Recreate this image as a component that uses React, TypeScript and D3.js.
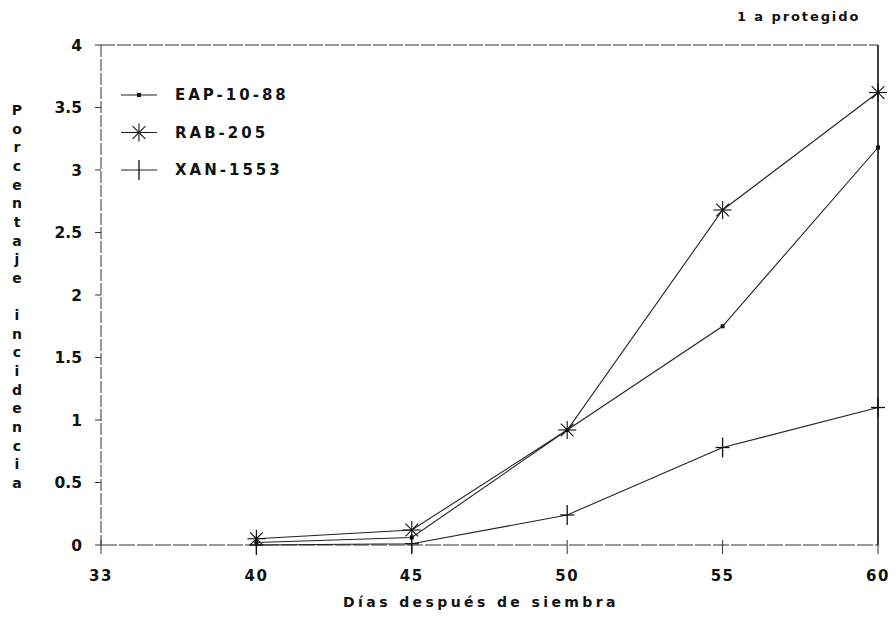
import React from "react";
import * as d3 from "d3";

const days = ["33", "40", "45", "50", "55", "60"];
const yTicks = [0, 0.5, 1, 1.5, 2, 2.5, 3, 3.5, 4];
const yTickLabels = ["0", "0.5", "1", "1.5", "2", "2.5", "3", "3.5", "4"];
const seriesNames = ["EAP-10-88", "RAB-205", "XAN-1553"];
const dataDays = ["40", "45", "50", "55", "60"];
const eapValues = [0.02, 0.06, 0.92, 1.75, 3.18];
const rabValues = [0.05, 0.12, 0.92, 2.68, 3.62];
const xanValues = [0.0, 0.01, 0.24, 0.78, 1.1];
const yLabel = "Porcentaje incidencia";
const xLabel = "Días después de siembra";
const topNote = "1 a protegido";

const W = 896, H = 619;
const L = 101, R = 878, T = 45, B = 545;
const font = "'DejaVu Sans', Verdana, sans-serif";

export default function App() {
  const x = d3.scalePoint<string>().domain(days).range([L, R]).padding(0);
  const y = d3.scaleLinear().domain([0, 4]).range([B, T]);
  const line = d3.line<[string, number]>().x(d => x(d[0])!).y(d => y(d[1]));
  const series = [eapValues, rabValues, xanValues].map(vals => dataDays.map((d, i) => [d, vals[i]] as [string, number]));

  const marker = (k: number, cx: number, cy: number, key: string, legend = false) => {
    if (k === 0) return <rect key={key} x={cx - 2} y={cy - 2} width={4} height={4} fill="#111" />;
    if (k === 1) {
      const r = 9;
      return (
        <g key={key} stroke="#111" strokeWidth={1.1}>
          {[0, 45, 90, 135].map(a => {
            const rad = (a * Math.PI) / 180;
            return <line key={a} x1={cx - r * Math.cos(rad)} y1={cy - r * Math.sin(rad)} x2={cx + r * Math.cos(rad)} y2={cy + r * Math.sin(rad)} />;
          })}
        </g>
      );
    }
    return (
      <g key={key} stroke="#111" strokeWidth={1.3}>
        <line x1={cx} y1={cy - 10} x2={cx} y2={cy + 10} />
        {!legend && <line x1={cx - 7} y1={cy} x2={cx + 7} y2={cy} />}
      </g>
    );
  };

  return (
    <svg width={W} height={H} style={{ position: "absolute", left: 0, top: 0, background: "#fff" }}>
      <rect x={0} y={0} width={W} height={H} fill="#fff" />
      <text x={737} y={21} fontFamily={font} fontWeight="bold" fontSize={13} letterSpacing={1.9} fill="#111">{topNote}</text>
      {/* frame */}
      <line x1={L} y1={T} x2={R} y2={T} stroke="#333" strokeWidth={1} strokeDasharray="14 2" />
      <line x1={R} y1={T} x2={R} y2={B} stroke="#111" strokeWidth={1.6} />
      <line x1={L} y1={T} x2={L} y2={B} stroke="#333" strokeWidth={1} strokeDasharray="12 2" />
      <line x1={L} y1={B} x2={R} y2={B} stroke="#333" strokeWidth={1} strokeDasharray="16 2" />
      {/* y ticks */}
      {yTicks.map((t, i) => (
        <g key={t}>
          <line x1={L - 6} x2={L} y1={y(t)} y2={y(t)} stroke="#333" />
          <text x={82} y={y(t)} dy="0.36em" textAnchor="end" fontFamily={font} fontWeight="bold" fontSize={15.5} fill="#111">{yTickLabels[i]}</text>
        </g>
      ))}
      {/* x ticks */}
      {days.map(d => (
        <g key={d}>
          <line x1={x(d)!} x2={x(d)!} y1={B - 5} y2={B + 9} stroke="#333" />
          <text x={x(d)!} y={581} textAnchor="middle" fontFamily={font} fontWeight="bold" fontSize={15} letterSpacing={1.5} fill="#111">{d}</text>
        </g>
      ))}
      <text x={481} y={607} textAnchor="middle" fontFamily={font} fontWeight="bold" fontSize={14} letterSpacing={3.4} fill="#111">{xLabel}</text>
      {/* y label stacked */}
      {yLabel.split("").map((c, i) => (
        <text key={i} x={17} y={110 + i * 18.65} dy="0.36em" textAnchor="middle" fontFamily={font} fontWeight="bold" fontSize={14} fill="#111">{c}</text>
      ))}
      {/* series */}
      {series.map((s, k) => (
        <g key={k}>
          <path d={line(s)!} fill="none" stroke="#222" strokeWidth={1.1} />
          {s.map((p, j) => marker(k, x(p[0])!, y(p[1]), `${k}-${j}`))}
        </g>
      ))}
      {/* legend */}
      {seriesNames.map((n, k) => {
        const ly = 95 + k * 37.5;
        return (
          <g key={n}>
            <line x1={121} x2={157} y1={ly} y2={ly} stroke="#222" strokeWidth={1.1} />
            {marker(k, 139, ly, `l${k}`, true)}
            <text x={175} y={ly} dy="0.36em" fontFamily={font} fontWeight="bold" fontSize={15} letterSpacing={3} fill="#111">{n}</text>
          </g>
        );
      })}
    </svg>
  );
}
